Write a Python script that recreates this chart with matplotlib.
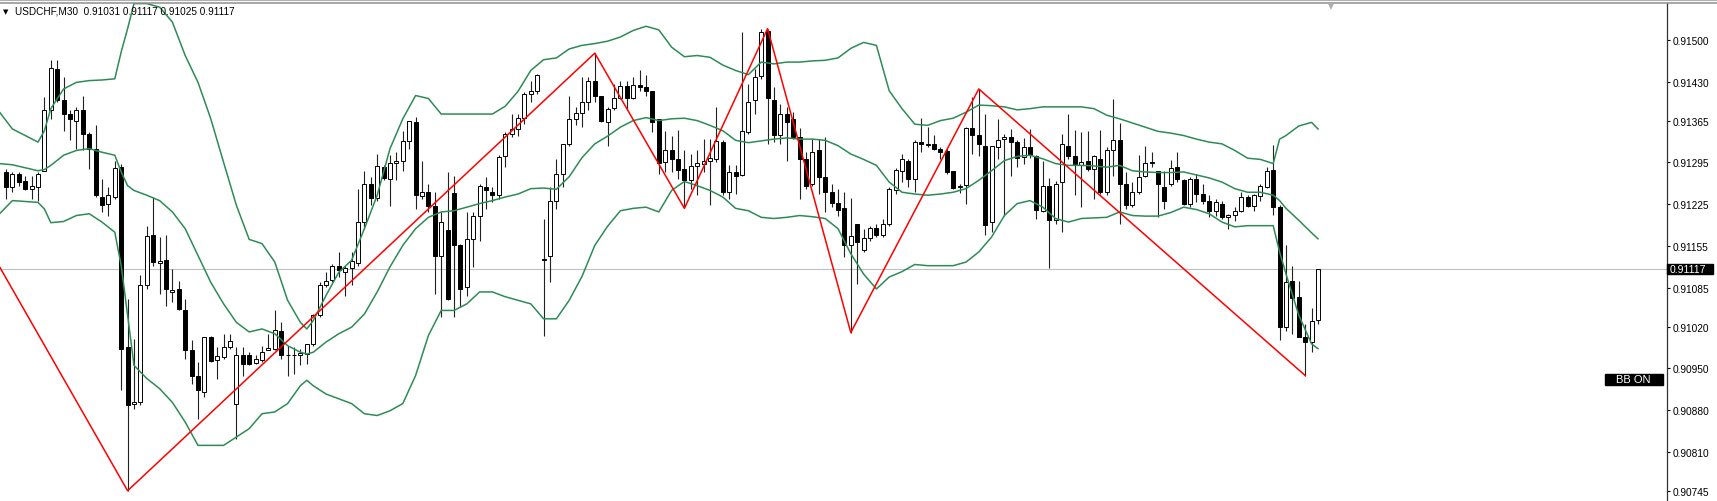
import numpy as np
import matplotlib
matplotlib.use("Agg")
import matplotlib.pyplot as plt
from matplotlib.lines import Line2D
from matplotlib.patches import Rectangle
from matplotlib.ticker import FixedLocator, FormatStrFormatter

plt.rcParams['font.family'] = ['Liberation Sans', 'DejaVu Sans']

# USDCHF M30, prices in points (1e-5)
opens = [
    91279, 91254, 91276, 91263, 91251, 91254, 91281, 91382, 91452, 91400,
    91376, 91365, 91383, 91342, 91318, 91237, 91225, 91237, 91287, 90986,
    90890, 90894, 91090, 91173, 91126, 91131, 91078, 91083, 91048, 90980,
    90937, 90910, 91002, 90964, 90969, 90986, 90891, 90973, 90973, 90959,
    90964, 90980, 90983, 91012, 90973, 90972, 90973, 90974, 90991, 91039,
    91090, 91098, 91121, 91111, 91118, 91127, 91195, 91258, 91236, 91288,
    91268, 91294, 91298, 91330, 91362, 91238, 91245, 91222, 91139, 91181,
    91244, 91157, 91086, 91167, 91206, 91254, 91246, 91240, 91305, 91343,
    91351, 91370, 91410, 91415, 91134, 91138, 91231, 91275, 91325, 91368,
    91378, 91396, 91432, 91407, 91362, 91386, 91403, 91423, 91403, 91425,
    91421, 91414, 91368, 91295, 91316, 91300, 91284, 91265, 91289, 91293,
    91297, 91301, 91329, 91246, 91279, 91274, 91346, 91399, 91439, 91515,
    91399, 91341, 91376, 91367, 91337, 91301, 91259, 91316, 91270, 91246,
    91227, 91218, 91156, 91192, 91148, 91168, 91185, 91173, 91191, 91248,
    91281, 91297, 91268, 91329, 91324, 91325, 91318, 91314, 91280, 91254,
    91257, 91352, 91341, 91323, 91195, 91321, 91334, 91338, 91329, 91304,
    91321, 91305, 91214, 91255, 91198, 91262, 91323, 91305, 91290, 91297,
    91284, 91301, 91245, 91315, 91333, 91259, 91223, 91246, 91272, 91295,
    91280, 91254, 91259, 91288, 91266, 91226, 91268, 91242, 91231, 91213,
    91226, 91203, 91207, 91213, 91237, 91222, 91239, 91254, 91283, 91220,
    91019, 91097, 91070, 91003, 90994, 91031,
]
highs = [
    91284, 91279, 91279, 91273, 91273, 91279, 91404, 91466, 91467, 91438,
    91382, 91388, 91406, 91346, 91357, 91268, 91254, 91298, 91293, 91067,
    91000, 91106, 91189, 91237, 91170, 91173, 91117, 91097, 91067, 90997,
    90960, 91002, 91005, 90986, 91008, 91008, 90986, 90986, 90977, 90973,
    90988, 91008, 91047, 91027, 90988, 90986, 90983, 90991, 91041, 91094,
    91111, 91125, 91145, 91122, 91145, 91251, 91281, 91270, 91309, 91290,
    91307, 91312, 91348, 91365, 91371, 91298, 91259, 91245, 91212, 91279,
    91273, 91159, 91212, 91212, 91259, 91270, 91254, 91307, 91346, 91376,
    91376, 91413, 91432, 91443, 91201, 91254, 91301, 91326, 91407, 91388,
    91438, 91438, 91478, 91407, 91388, 91427, 91432, 91432, 91438, 91449,
    91441, 91414, 91368, 91348, 91340, 91350, 91315, 91309, 91315, 91334,
    91334, 91388, 91332, 91290, 91290, 91514, 91427, 91452, 91519, 91519,
    91421, 91393, 91388, 91380, 91352, 91312, 91334, 91334, 91337, 91259,
    91251, 91245, 91235, 91192, 91184, 91189, 91192, 91201, 91254, 91285,
    91309, 91301, 91332, 91369, 91354, 91341, 91321, 91318, 91281, 91259,
    91354, 91404, 91418, 91376, 91323, 91367, 91343, 91351, 91332, 91336,
    91351, 91307, 91297, 91269, 91263, 91343, 91376, 91350, 91346, 91347,
    91307, 91350, 91321, 91402, 91361, 91279, 91262, 91307, 91323, 91313,
    91280, 91281, 91299, 91313, 91268, 91270, 91276, 91259, 91240, 91234,
    91231, 91209, 91220, 91245, 91240, 91242, 91259, 91287, 91324, 91223,
    91156, 91122, 91096, 91025, 91051, 91117,
]
lows = [
    91234, 91245, 91256, 91248, 91234, 91231, 91281, 91368, 91396, 91348,
    91332, 91318, 91315, 91284, 91237, 91212, 91206, 91234, 90913, 90745,
    90882, 90888, 91083, 91122, 91075, 91055, 91061, 91047, 90966, 90924,
    90866, 90902, 90960, 90932, 90966, 90983, 90832, 90938, 90955, 90958,
    90960, 90980, 90980, 90966, 90938, 90941, 90955, 90958, 90988, 91036,
    91086, 91094, 91103, 91072, 91089, 91122, 91184, 91223, 91231, 91265,
    91222, 91265, 91281, 91318, 91217, 91234, 91212, 91075, 91036, 91064,
    91036, 91053, 91072, 91120, 91164, 91217, 91228, 91234, 91287, 91337,
    91340, 91360, 91396, 91410, 91005, 91094, 91217, 91254, 91323, 91357,
    91354, 91382, 91396, 91362, 91323, 91382, 91402, 91382, 91402, 91415,
    91407, 91346, 91276, 91279, 91279, 91268, 91218, 91251, 91240, 91279,
    91223, 91295, 91240, 91234, 91242, 91273, 91343, 91376, 91435, 91326,
    91329, 91326, 91298, 91334, 91234, 91251, 91256, 91242, 91212, 91220,
    91206, 91136, 91010, 91092, 91145, 91164, 91170, 91170, 91189, 91242,
    91262, 91254, 91245, 91312, 91321, 91315, 91301, 91276, 91250, 91244,
    91226, 91309, 91305, 91173, 91178, 91301, 91206, 91273, 91287, 91293,
    91302, 91201, 91212, 91118, 91192, 91178, 91301, 91240, 91220, 91281,
    91234, 91242, 91240, 91273, 91192, 91217, 91220, 91242, 91270, 91287,
    91203, 91217, 91256, 91262, 91223, 91220, 91228, 91226, 91203, 91206,
    91201, 91184, 91196, 91212, 91220, 91214, 91231, 91252, 91207, 90997,
    91013, 91008, 91002, 90938, 90977, 91025,
]
closes = [
    91254, 91276, 91262, 91251, 91255, 91275, 91382, 91453, 91399, 91376,
    91367, 91382, 91343, 91318, 91240, 91224, 91240, 91285, 90983, 90888,
    90894, 91090, 91172, 91128, 91130, 91083, 91082, 91050, 90980, 90938,
    90913, 91002, 90963, 90970, 90986, 90996, 90973, 90958, 90958, 90966,
    90978, 90984, 91015, 90972, 90972, 90973, 90976, 90990, 91039, 91090,
    91096, 91122, 91114, 91118, 91130, 91195, 91258, 91236, 91289, 91269,
    91294, 91298, 91330, 91365, 91241, 91246, 91222, 91139, 91195, 91067,
    91156, 91083, 91167, 91206, 91256, 91248, 91240, 91304, 91343, 91351,
    91370, 91410, 91415, 91441, 91131, 91231, 91275, 91326, 91368, 91378,
    91396, 91432, 91407, 91365, 91385, 91403, 91423, 91403, 91425, 91421,
    91414, 91363, 91294, 91315, 91301, 91283, 91265, 91289, 91294, 91298,
    91302, 91330, 91246, 91279, 91273, 91348, 91396, 91438, 91513, 91403,
    91341, 91376, 91362, 91337, 91301, 91256, 91313, 91270, 91245, 91227,
    91216, 91157, 91172, 91161, 91168, 91185, 91173, 91192, 91251, 91283,
    91300, 91268, 91329, 91325, 91326, 91317, 91312, 91279, 91252, 91256,
    91352, 91341, 91325, 91190, 91322, 91333, 91338, 91329, 91302, 91321,
    91307, 91216, 91255, 91198, 91259, 91325, 91305, 91292, 91295, 91284,
    91305, 91245, 91315, 91332, 91259, 91223, 91246, 91271, 91294, 91294,
    91259, 91231, 91286, 91268, 91226, 91268, 91242, 91230, 91213, 91228,
    91203, 91207, 91214, 91237, 91222, 91240, 91256, 91281, 91220, 91019,
    91094, 91068, 91003, 90994, 91029, 91117,
]

# Bollinger bands, read at selected bars
band_idx = [-1, 1, 5, 6, 7, 9, 11, 13, 15, 17, 18, 19, 20, 22, 24, 26, 28, 30, 32, 34,
            36, 38, 40, 42, 44, 46, 47, 48, 50, 52, 54, 56, 58, 60, 62, 64, 66, 68,
            70, 72, 74, 76, 78, 80, 82, 84, 86, 88, 90, 92, 94, 96, 98, 100, 102,
            104, 106, 108, 110, 112, 114, 116, 118, 120, 122, 124, 126, 128, 130, 132, 134, 136, 138,
            140, 142, 144, 146, 148, 150, 152, 154, 156, 158, 160, 162, 164, 166, 168, 170, 172,
            174, 176, 178, 180, 182, 184, 186, 188, 190, 192, 194, 196, 198, 199, 200, 202, 204, 205]
bb_upper = [91379, 91351, 91329, 91348, 91385, 91418, 91429, 91432, 91433, 91435, 91480, 91519, 91561, 91561, 91555, 91530, 91474, 91429, 91368, 91295,
            91223, 91166, 91159, 91128, 91064, 91027, 91016, 91030, 91072, 91111, 91131, 91184, 91240, 91318, 91368, 91407, 91402, 91376,
            91376, 91376, 91376, 91376, 91389, 91414, 91449, 91467, 91470, 91485, 91491, 91494, 91498, 91505, 91516, 91523, 91517,
            91488, 91472, 91474, 91471, 91458, 91449, 91442, 91463, 91460, 91463, 91463, 91465, 91466, 91470, 91486, 91496, 91491, 91415,
            91385, 91359, 91357, 91365, 91369, 91379, 91391, 91390, 91388, 91383, 91385, 91388, 91388, 91388, 91388, 91385, 91374,
            91368, 91361, 91354, 91347, 91344, 91340, 91334, 91329, 91326, 91315, 91302, 91300, 91293, 91334, 91340, 91356, 91362, 91351]
bb_middle = [91293, 91291, 91281, 91283, 91290, 91307, 91315, 91318, 91312, 91307, 91279, 91256, 91248, 91240, 91231, 91212, 91184, 91139, 91094, 91058,
             91027, 91011, 91016, 91008, 90988, 90977, 90974, 90977, 90994, 91008, 91019, 91041, 91078, 91120, 91156, 91184, 91203, 91212,
             91214, 91220, 91226, 91231, 91237, 91242, 91251, 91252, 91250, 91271, 91303, 91326, 91339, 91354, 91365, 91370, 91365,
             91368, 91369, 91365, 91357, 91348, 91332, 91328, 91331, 91334, 91336, 91334, 91334, 91332, 91323, 91309, 91300, 91290, 91262,
             91245, 91242, 91240, 91242, 91245, 91251, 91265, 91281, 91298, 91305, 91307, 91301, 91293, 91290, 91290, 91289, 91287,
             91290, 91281, 91279, 91278, 91278, 91279, 91274, 91269, 91262, 91251, 91245, 91245, 91240, 91231, 91218, 91198, 91177, 91167]
bb_lower = [91209, 91231, 91228, 91217, 91194, 91196, 91206, 91209, 91195, 91178, 91122, 91039, 90955, 90933, 90916, 90893, 90860, 90821, 90821, 90821,
            90835, 90849, 90874, 90877, 90891, 90921, 90930, 90921, 90907, 90899, 90891, 90874, 90871, 90879, 90891, 90938, 91005, 91047,
            91047, 91058, 91078, 91078, 91070, 91064, 91058, 91033, 91033, 91064, 91104, 91156, 91188, 91214, 91218, 91220, 91212,
            91248, 91263, 91256, 91248, 91237, 91218, 91214, 91203, 91201, 91203, 91206, 91204, 91201, 91184, 91142, 91108, 91083, 91103,
            91112, 91124, 91122, 91122, 91122, 91128, 91145, 91170, 91206, 91226, 91231, 91220, 91201, 91195, 91201, 91202, 91203,
            91212, 91206, 91205, 91205, 91211, 91220, 91216, 91209, 91195, 91187, 91189, 91189, 91189, 91145, 91108, 91039, 90991, 90983]

# ZigZag turning points
zz_idx = [-1, 19, 92, 106, 119, 132, 152, 203]
zz_val = [91120, 90745, 91478, 91218, 91519, 91010, 91418, 90938]

price_ticks = [0.91500, 0.91430, 0.91365, 0.91295, 0.91225, 0.91155,
               0.91085, 0.91020, 0.90950, 0.90880, 0.90810, 0.90745]
last_price = 0.91117
header = "USDCHF,M30  0.91031 0.91117 0.91025 0.91117"

o = np.array(opens) / 1e5
h = np.array(highs) / 1e5
l = np.array(lows) / 1e5
c = np.array(closes) / 1e5
x = np.arange(len(o))

W, H = 1717, 502
AX_R = 1666.5
fig = plt.figure(figsize=(W / 100, H / 100), dpi=100)
ax = fig.add_axes([0, 0, AX_R / W, 498 / H])

# wicks and bodies
ax.vlines(x, l, h, color='#222222', lw=0.8, zorder=2)
up = c >= o
bottom = np.minimum(o, c)
height = np.maximum(np.abs(c - o), 0.000006)
ax.bar(x[up], height[up], bottom=bottom[up], width=0.62, color='white',
       edgecolor='black', linewidth=0.7, zorder=3)
ax.bar(x[~up], height[~up], bottom=bottom[~up], width=0.62, color='black',
       edgecolor='black', linewidth=0.7, zorder=3)

green = '#2e8b57'
for band in (bb_upper, bb_middle, bb_lower):
    ax.plot(band_idx, np.array(band) / 1e5, color=green, lw=1.1, zorder=4)

ax.plot(zz_idx, np.array(zz_val) / 1e5, color='#ff0000', lw=1.1, zorder=5)

ax.axhline(last_price, color='#c0c0c0', lw=0.8, zorder=1)

ax.set_xlim(-6 / 6.4, (AX_R - 6) / 6.4)
ax.set_ylim(0.915 - 461 * 1.675e-5, 0.915 + 37 * 1.675e-5)

for s in ('left', 'bottom', 'top'):
    ax.spines[s].set_visible(False)
ax.spines['right'].set_color('#333333')
ax.spines['right'].set_linewidth(0.9)
ax.set_xticks([])
ax.yaxis.tick_right()
ax.yaxis.set_major_locator(FixedLocator(price_ticks))
ax.yaxis.set_major_formatter(FormatStrFormatter('%.5f'))
ax.tick_params(axis='y', length=2.5, width=0.8, pad=2, labelsize=7.3, colors='black')

# top border lines
fig.add_artist(Line2D([0, 1], [1 - 1.3 / H] * 2, transform=fig.transFigure,
                      color='#b0b0b0', lw=0.8))
fig.add_artist(Line2D([0, 1], [1 - 4 / H] * 2, transform=fig.transFigure,
                      color='#909090', lw=1.1))

# shift marker
fig.text(1331 / W, 1 - 6.5 / H, '▼', fontsize=5.5, color='#b0b0b0', ha='center', va='center',
         family=['DejaVu Sans'])

# header
fig.text(3 / W, 1 - 12 / H, '▼', fontsize=5, color='black', va='center', family=['DejaVu Sans'])
fig.text(15 / W, 1 - 12 / H, header, fontsize=7.2, color='black', va='center')

# last price box
trans = ax.get_yaxis_transform()
ax.add_patch(Rectangle((1667 / AX_R, last_price - 0.000084), 46 / AX_R, 0.000168,
                       transform=trans, color='black', clip_on=False, zorder=6))
ax.text(1669.5 / AX_R, last_price, f"{last_price:.5f}", transform=trans, color='white',
        fontsize=7.6, va='center', ha='left', clip_on=False, zorder=7)

# BB ON label
fig.add_artist(Rectangle((1605 / W, 1 - 386 / H), 58 / W, 11 / H, transform=fig.transFigure,
                         color='black'))
fig.text(1633.5 / W, 1 - 380.5 / H, 'BB ON', fontsize=8, color='white', ha='center', va='center')

fig.savefig('out.png', dpi=100)
